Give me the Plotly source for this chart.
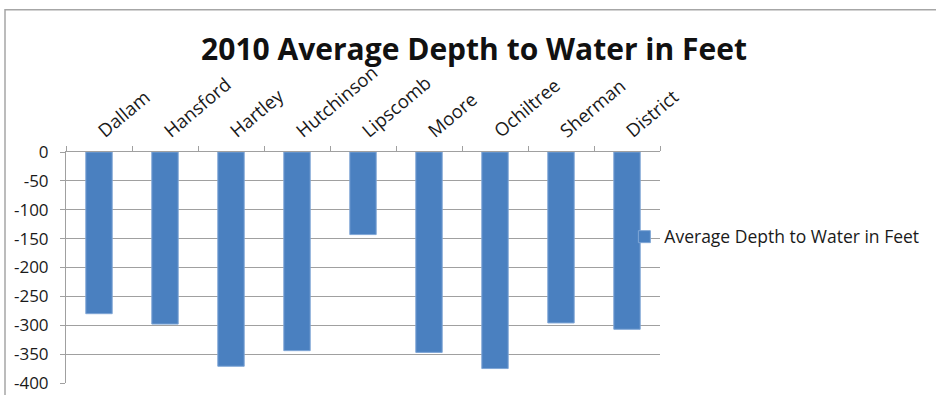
import plotly.graph_objects as go

# Average depth to water (feet below surface), 2010
counties = ["Dallam", "Hansford", "Hartley", "Hutchinson", "Lipscomb",
            "Moore", "Ochiltree", "Sherman", "District"]
depth_ft = [-280, -298, -371, -344, -143, -347, -375, -296, -307]
y_ticks = [0, -50, -100, -150, -200, -250, -300, -350, -400]
y_tick_text = [str(v) for v in y_ticks]  # plain hyphen minus signs

series_name = "Average Depth to Water in Feet"
font_family = "Open Sans, Lato, DejaVu Sans, sans-serif"

fig = go.Figure(
    go.Bar(
        x=counties,
        y=depth_ft,
        name=series_name,
        marker=dict(color="#4A80C0", line=dict(color="#7FA6D6", width=1)),
        showlegend=True,
    )
)

fig.update_layout(
    width=936,
    height=395,
    margin=dict(l=66, r=276, t=152, b=12, autoexpand=False),
    paper_bgcolor="white",
    plot_bgcolor="white",
    bargap=0.6,
    font=dict(family=font_family, size=16, color="#1a1a1a"),
    title=dict(
        text="<b>2010 Average Depth to Water in Feet</b>",
        font=dict(family=font_family, size=30, color="#111"),
        x=474 / 936,
        xanchor="center",
        y=1 - 49 / 395,
        yanchor="middle",
    ),
    xaxis=dict(
        side="top",
        tickangle=-40,
        tickson="boundaries",
        ticks="outside",
        ticklen=5,
        tickcolor="#a0a0a0",
        ticklabelstandoff=3,
        showline=True,
        linecolor="#a0a0a0",
        linewidth=1,
        showgrid=False,
        automargin=False,
        tickfont=dict(size=18.5),
    ),
    yaxis=dict(
        range=[-400, 0],
        tickvals=y_ticks,
        ticktext=y_tick_text,
        ticks="outside",
        ticklen=5,
        tickcolor="#a0a0a0",
        ticklabelstandoff=8,
        showline=True,
        linecolor="#a0a0a0",
        linewidth=1,
        showgrid=True,
        gridcolor="#a0a0a0",
        gridwidth=1,
        zeroline=False,
        automargin=False,
        tickfont=dict(size=17),
    ),
    legend=dict(
        x=0.940,
        xanchor="left",
        y=0.633,
        yanchor="middle",
        bgcolor="rgba(0,0,0,0)",
        font=dict(size=17.5),
    ),
    shapes=[
        # outer chart-area frame
        dict(
            type="rect",
            xref="paper", yref="paper",
            x0=(5 - 66) / 594, x1=1.6,
            y0=-0.2, y1=(383.3 - 10) / 231,
            line=dict(color="#a6a6a6", width=1.5),
            fillcolor="rgba(0,0,0,0)",
            layer="below",
        )
    ],
)

fig.write_html("out.html")
